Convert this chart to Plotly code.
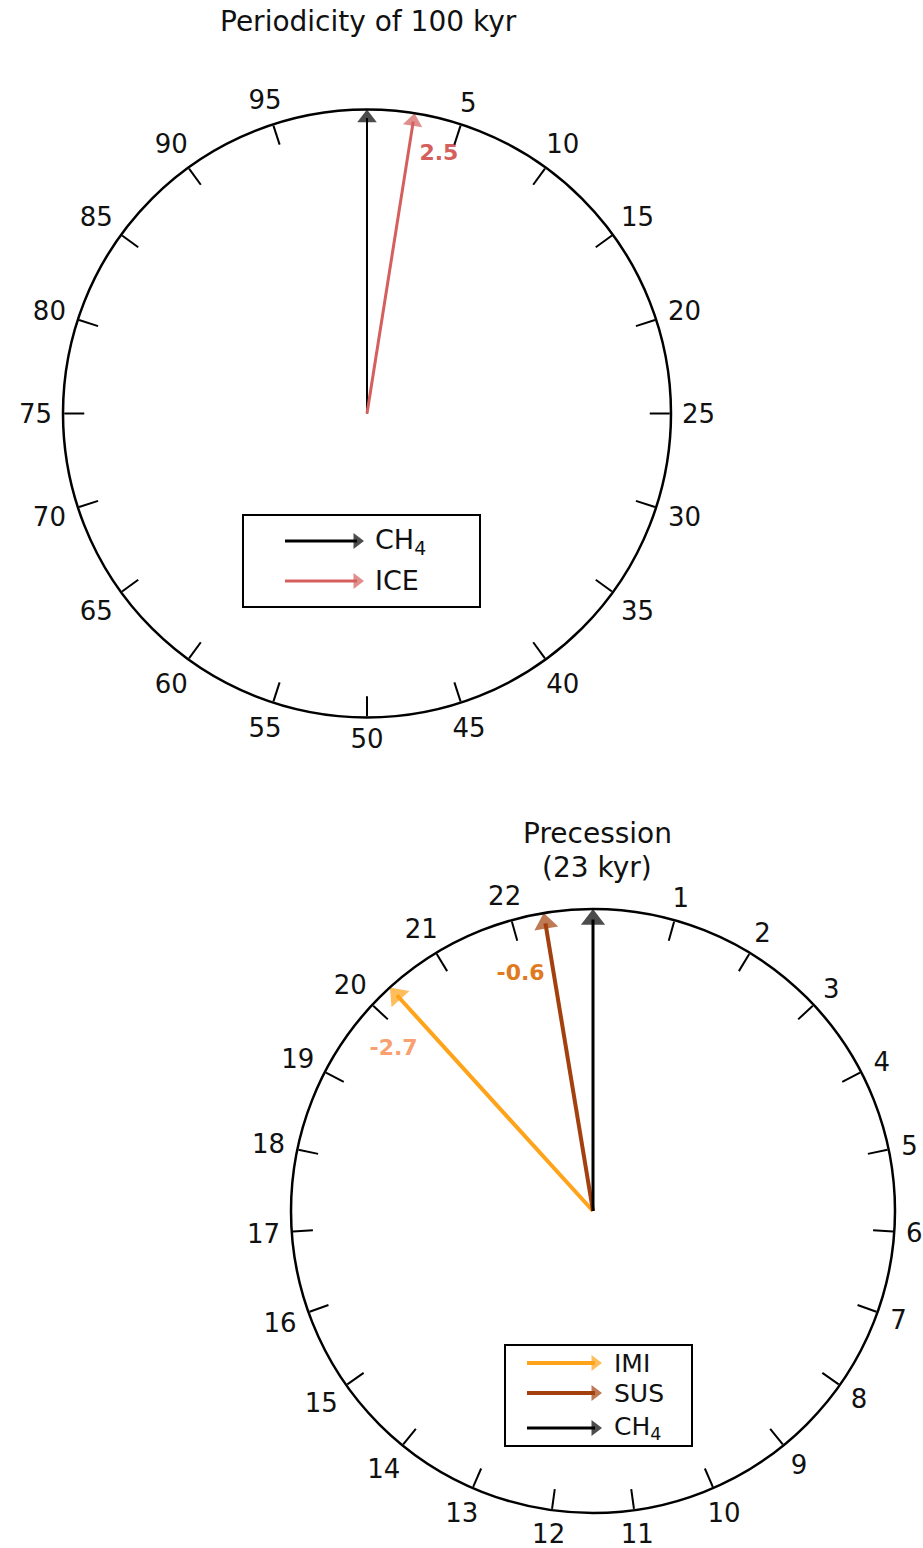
import math
import plotly.graph_objects as go

# ---------------- data ----------------
# Top wheel: periodicity of 100 kyr
top_period = 100
top_ticks = list(range(5, 100, 5))
top_series = ["CH<sub>4</sub>", "ICE"]
top_phase = [0.0, 2.5]
top_colors = ["#000000", "#d45f5c"]
top_widths = [2, 3]
top_labels = ["", "2.5"]

# Bottom wheel: precession (23 kyr)
bot_period = 23
bot_ticks = list(range(1, 23))
bot_series = ["IMI", "SUS", "CH<sub>4</sub>"]
bot_phase = [-2.7, -0.6, 0.0]
bot_colors = ["#ffa31a", "#a3400d", "#000000"]
bot_widths = [4, 4, 3]
bot_labels = ["-2.7", "-0.6", ""]
bot_label_colors = ["#f9a071", "#e07a1e", "#000000"]

FONT = "DejaVu Sans"
TICK_SIZE = 26
PAGE_OFF = 0          # body margin removed by post_script below
PAGE_W, PAGE_H = 923, 1548
W, H = PAGE_W - PAGE_OFF, PAGE_H - PAGE_OFF

# dial geometry (page pixels): centre x, centre y, radius
TOP_DIAL = (367, 413.5, 304)
BOT_DIAL = (593, 1211, 302)
LABEL_GAP, LABEL_VSHIFT = 11, 3


def px(x):
    return (x - PAGE_OFF) / W


def py(y):
    return 1 - (y - PAGE_OFF) / H


def domain(dial):
    cx, cy, r = dial
    return dict(x=[px(cx - r), px(cx + r)], y=[py(cy + r), py(cy - r)])


def deg(v, period):
    return v * 360.0 / period


fig = go.Figure()


def add_wheel(polar, dial, period, phases, colors, widths, head, ticks):
    for v, c, w in zip(phases, colors, widths):
        fig.add_trace(go.Scatterpolar(
            subplot=polar, r=[0, 1], theta=[0, deg(v, period)],
            mode="lines+markers",
            line=dict(color=c, width=w),
            marker=dict(symbol="triangle-up", size=[0, head], color=c,
                        angleref="previous", standoff=head / 2,
                        line=dict(width=0)),
            showlegend=False, hoverinfo="skip"))
    # tick labels placed just outside the dial (page-pixel overlay axes)
    cx, cy, R = dial
    xs, ys = [], []
    for t in ticks:
        a = math.radians(deg(t, period))
        ux, uy = math.sin(a), -math.cos(a)
        half_w = len(str(t)) * 0.636 * TICK_SIZE / 2
        half_h = 0.4 * TICK_SIZE
        d = R + LABEL_GAP + abs(ux) * half_w + abs(uy) * half_h
        xs.append(cx + ux * d)
        ys.append(cy + uy * d + LABEL_VSHIFT)
    fig.add_trace(go.Scatter(
        x=xs, y=ys, xaxis="x", yaxis="y",
        mode="text", text=[str(t) for t in ticks],
        textposition="middle center", cliponaxis=False,
        textfont=dict(family=FONT, size=TICK_SIZE, color="#111111"),
        showlegend=False, hoverinfo="skip"))


add_wheel("polar", TOP_DIAL, top_period, top_phase, top_colors, top_widths, 17, top_ticks)
add_wheel("polar2", BOT_DIAL, bot_period, bot_phase, bot_colors, bot_widths, 21, bot_ticks)

# phase value labels (placed beside the arrow tips)
top_label_pos = [(0.885, 6.5)]
fig.add_trace(go.Scatterpolar(
    subplot="polar", r=[top_label_pos[0][0]],
    theta=[deg(top_phase[1], top_period) + top_label_pos[0][1]],
    mode="text", text=[top_labels[1]],
    textfont=dict(family=FONT, size=22, color=top_colors[1], weight="bold"),
    showlegend=False, hoverinfo="skip"))

bot_label_pos = [(0.85, -8.7), (0.82, -7.6)]
for i in range(2):
    fig.add_trace(go.Scatterpolar(
        subplot="polar2", r=[bot_label_pos[i][0]],
        theta=[deg(bot_phase[i], bot_period) + bot_label_pos[i][1]],
        mode="text", text=[bot_labels[i]],
        textfont=dict(family=FONT, size=22, color=bot_label_colors[i], weight="bold"),
        showlegend=False, hoverinfo="skip"))


def ang_axis(period, ticks):
    return dict(
        rotation=90, direction="clockwise",
        tickmode="array",
        tickvals=[deg(t, period) for t in ticks],
        showticklabels=False,
        ticks="inside", ticklen=20, tickwidth=2, tickcolor="black",
        showline=True, linecolor="black", linewidth=2.5,
        showgrid=False,
    )


annotations = []
shapes = []
TITLE_FONT = dict(family=FONT, size=28, color="#111111")
annotations.append(dict(xref="paper", yref="paper", x=px(368), y=py(22),
                        text="Periodicity of 100 kyr", showarrow=False, font=TITLE_FONT,
                        xanchor="center", yanchor="middle"))
annotations.append(dict(xref="paper", yref="paper", x=px(597), y=py(833),
                        text="Precession", showarrow=False, font=TITLE_FONT,
                        xanchor="center", yanchor="middle"))
annotations.append(dict(xref="paper", yref="paper", x=px(597), y=py(868),
                        text="(23 kyr)", showarrow=False, font=TITLE_FONT,
                        xanchor="center", yanchor="middle"))


# custom legends with arrows (drawn on the page-pixel overlay axes)
def legend(box, names, colors, widths, x0, x1, text_x, ys, size, heads):
    shapes.append(dict(type="rect", xref="paper", yref="paper",
                       x0=px(box[0]), x1=px(box[2]), y0=py(box[3]), y1=py(box[1]),
                       line=dict(color="black", width=2), fillcolor="rgba(0,0,0,0)"))
    for n, c, w, y, hs in zip(names, colors, widths, ys, heads):
        fig.add_trace(go.Scatter(
            x=[x0, x1], y=[y, y], xaxis="x", yaxis="y", mode="lines+markers",
            line=dict(color=c, width=w),
            marker=dict(symbol="triangle-up", size=[0, hs], color=c,
                        angleref="previous", standoff=hs / 2, line=dict(width=0)),
            cliponaxis=False, showlegend=False, hoverinfo="skip"))
        annotations.append(dict(xref="paper", yref="paper", x=px(text_x), y=py(y),
                                text=n, showarrow=False, xanchor="left", yanchor="middle",
                                font=dict(family=FONT, size=size, color="#111111")))


legend((243, 515, 480, 607), top_series, top_colors, [3, 3], 285, 364, 373, [541, 581],
       27, [14, 14])
legend((505, 1345, 692, 1446), bot_series, bot_colors, [4, 4, 3], 527, 602, 612,
       [1363, 1393, 1428], 25, [14, 14, 14])

fig.update_layout(
    width=W, height=H,
    margin=dict(l=0, r=0, t=0, b=0),
    paper_bgcolor="white", plot_bgcolor="rgba(0,0,0,0)",
    xaxis=dict(visible=False, range=[PAGE_OFF, PAGE_W], domain=[0, 1], fixedrange=True),
    yaxis=dict(visible=False, range=[PAGE_H, PAGE_OFF], domain=[0, 1], fixedrange=True),
    polar=dict(
        domain=domain(TOP_DIAL),
        bgcolor="rgba(0,0,0,0)",
        radialaxis=dict(visible=False, range=[0, 1]),
        angularaxis=ang_axis(top_period, top_ticks),
    ),
    polar2=dict(
        domain=domain(BOT_DIAL),
        bgcolor="rgba(0,0,0,0)",
        radialaxis=dict(visible=False, range=[0, 1]),
        angularaxis=ang_axis(bot_period, bot_ticks),
    ),
    annotations=annotations, shapes=shapes,
)
fig.write_html("out.html",
               config={"displayModeBar": False},
               post_script="document.body.style.margin='0';"
                           "document.body.style.overflow='hidden';")
